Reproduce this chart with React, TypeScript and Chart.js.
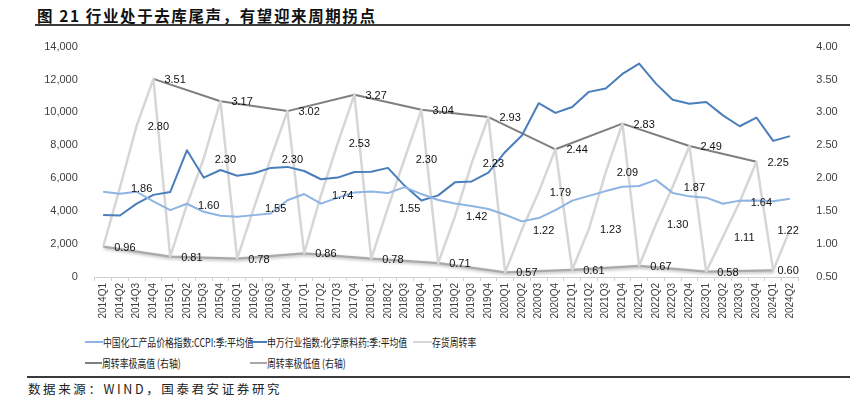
import React, { useEffect, useRef } from 'react';
import { Chart, registerables } from 'chart.js';
Chart.register(...registerables);

const categories = [
  '2014Q1','2014Q2','2014Q3','2014Q4','2015Q1','2015Q2','2015Q3','2015Q4',
  '2016Q1','2016Q2','2016Q3','2016Q4','2017Q1','2017Q2','2017Q3','2017Q4',
  '2018Q1','2018Q2','2018Q3','2018Q4','2019Q1','2019Q2','2019Q3','2019Q4',
  '2020Q1','2020Q2','2020Q3','2020Q4','2021Q1','2021Q2','2021Q3','2021Q4',
  '2022Q1','2022Q2','2022Q3','2022Q4','2023Q1','2023Q2','2023Q3','2023Q4',
  '2024Q1','2024Q2'
];

const ccpi = [
  5180,5060,5180,4590, 4060,4450,3960,3720, 3660,3760,3860,4660,
  5040,4460,4820,5140, 5200,5100,5460,5040, 4680,4460,4320,4130,
  3780,3380,3580,4060, 4640,4930,5220,5480, 5530,5900,5110,4900,
  4820,4450,4640,4650, 4600,4750
];

const swIndex = [
  3760,3740,4460,4990, 5160,7700,6040,6500, 6150,6300,6630,6690,
  6440,5940,6040,6380, 6400,6630,5540,4650, 4960,5750,5810,6340,
  7600,8600,10560,9970, 10330,11250,11450,12340, 12970,11750,10770,10530,
  10630,9820,9160,9690, 8270,8560
];

const turnover = [
  0.96,1.86,2.80,3.51, 0.81,1.60,2.30,3.17, 0.78,1.55,2.30,3.02,
  0.86,1.74,2.53,3.27, 0.78,1.55,2.30,3.04, 0.71,1.42,2.23,2.93,
  0.57,1.22,1.79,2.44, 0.61,1.23,2.09,2.83, 0.67,1.30,1.87,2.49,
  0.58,1.11,1.64,2.25, 0.60,1.22
];

const highQuarters = ['2014Q4','2015Q4','2016Q4','2017Q4','2018Q4','2019Q4','2020Q4','2021Q4','2022Q4','2023Q4'];
const highValues = [3.51,3.17,3.02,3.27,3.04,2.93,2.44,2.83,2.49,2.25];
const lowQuarters = ['2014Q1','2015Q1','2016Q1','2017Q1','2018Q1','2019Q1','2020Q1','2021Q1','2022Q1','2023Q1','2024Q1'];
const lowValues = [0.96,0.81,0.78,0.86,0.78,0.71,0.57,0.61,0.67,0.58,0.60];

const leftTicks = [0,2000,4000,6000,8000,10000,12000,14000];
const rightTicks = [0.5,1.0,1.5,2.0,2.5,3.0,3.5,4.0];

const seriesNames = [
  '中国化工产品价格指数:CCPI:季:平均值',
  '申万行业指数:化学原料药:季:平均值',
  '存货周转率',
  '周转率极高值 (右轴)',
  '周转率极低值 (右轴)'
];
const colors = ['#8db4e2', '#4a7ebb', '#d6d6d6', '#7f7f7f', '#a9a9a9'];

const highSeries = categories.map((c) => {
  const k = highQuarters.indexOf(c);
  return k >= 0 ? highValues[k] : null;
});
const lowSeries = categories.map((c) => {
  const k = lowQuarters.indexOf(c);
  return k >= 0 ? lowValues[k] : null;
});

const FONT = '"Liberation Sans", Arial, sans-serif';
const CJK = '"Noto Sans CJK SC", "Liberation Sans", sans-serif';

export default function App() {
  const ref = useRef<HTMLCanvasElement>(null);

  useEffect(() => {
    document.body.style.margin = '0';
    const canvas = ref.current;
    if (!canvas) return;

    const labelPlugin = {
      id: 'turnLabels',
      afterDatasetsDraw(chart: any) {
        const meta = chart.getDatasetMeta(2);
        const c = chart.ctx;
        c.save();
        c.font = '11px ' + FONT;
        c.fillStyle = '#111';
        c.textBaseline = 'middle';
        c.textAlign = 'left';
        meta.data.forEach((pt: any, i: number) => {
          const txt = turnover[i].toFixed(2);
          const w = c.measureText(txt).width;
          let x = pt.x + 11;
          if (x + w > chart.chartArea.right + 0.5) x = chart.chartArea.right + 0.5 - w;
          c.fillText(txt, x, pt.y + 1);
        });
        c.restore();
      },
    };

    const shadowPlugin = {
      id: 'lineShadow',
      beforeDatasetDraw(chart: any, args: any) {
        if (args.index === 4) {
          const c = chart.ctx;
          c.save();
          c.shadowColor = 'rgba(0,0,0,0.28)';
          c.shadowBlur = 3;
          c.shadowOffsetX = 1;
          c.shadowOffsetY = 1.5;
        }
      },
      afterDatasetDraw(chart: any, args: any) {
        if (args.index === 4) chart.ctx.restore();
      },
    };

    const base = { pointRadius: 0, pointHoverRadius: 0, tension: 0, fill: false, borderJoinStyle: 'round' as const };

    const chart = new Chart(canvas, {
      type: 'line',
      data: {
        labels: categories,
        datasets: [
          { ...base, label: seriesNames[0], data: ccpi, borderColor: colors[0], borderWidth: 2, yAxisID: 'y' },
          { ...base, label: seriesNames[1], data: swIndex, borderColor: colors[1], borderWidth: 2, yAxisID: 'y' },
          { ...base, label: seriesNames[2], data: turnover, borderColor: colors[2], borderWidth: 2.5, yAxisID: 'y1' },
          { ...base, label: seriesNames[3], data: highSeries, borderColor: colors[3], borderWidth: 2, yAxisID: 'y1', spanGaps: true },
          { ...base, label: seriesNames[4], data: lowSeries, borderColor: colors[4], borderWidth: 2.25, yAxisID: 'y1', spanGaps: true },
        ],
      },
      options: {
        responsive: false,
        animation: false,
        devicePixelRatio: 1,
        layout: { padding: { top: 10, left: 0, right: 0, bottom: 0 } },
        plugins: {
          legend: { display: false },
          tooltip: { enabled: false },
        },
        scales: {
          x: {
            offset: true,
            grid: { display: true, drawOnChartArea: false, drawTicks: true, tickLength: 4, color: '#d0d0d0', offset: true },
            border: { display: true, color: '#d0d0d0', width: 1 },
            ticks: { autoSkip: false, maxRotation: 90, minRotation: 90, padding: 2, color: '#404040', font: { family: FONT, size: 10 } },
            afterFit: (s: any) => { s.height = 53; },
          },
          y: {
            position: 'left',
            min: 0,
            max: 14000,
            afterBuildTicks: (s: any) => { s.ticks = leftTicks.map((v) => ({ value: v })); },
            grid: { display: false },
            border: { display: false },
            ticks: {
              padding: 9,
              color: '#404040',
              font: { family: FONT, size: 11 },
              callback: (v: any) => Number(v).toLocaleString('en-US'),
            },
            afterFit: (s: any) => { s.width = 94.8; },
          },
          y1: {
            position: 'right',
            min: 0.5,
            max: 4.0,
            afterBuildTicks: (s: any) => { s.ticks = rightTicks.map((v) => ({ value: v })); },
            grid: { display: false },
            border: { display: false },
            ticks: {
              padding: 10,
              color: '#404040',
              font: { family: FONT, size: 11 },
              callback: (v: any) => Number(v).toFixed(2),
            },
            afterFit: (s: any) => { s.width = 58.7; },
          },
        },
      },
      plugins: [shadowPlugin, labelPlugin],
    });

    return () => chart.destroy();
  }, []);

  const legendRows = [
    [
      { i: 0, lx: 85, tx: 103 },
      { i: 1, lx: 250, tx: 267 },
      { i: 2, lx: 413, tx: 432 },
    ],
    [
      { i: 3, lx: 85, tx: 102 },
      { i: 4, lx: 250, tx: 267 },
    ],
  ];
  const rowY = [342, 363];

  return (
    <div style={{ position: 'relative', width: 857, height: 397, background: '#fff', overflow: 'hidden' }}>
      <div style={{ position: 'absolute', left: 37, top: 4, fontFamily: CJK, fontWeight: 700, fontSize: 15.5, letterSpacing: 1.6, color: '#111', whiteSpace: 'nowrap' }}>
        图 21 行业处于去库尾声，有望迎来周期拐点
      </div>
      <div style={{ position: 'absolute', left: 35, top: 24, width: 815, height: 2, background: '#3a3a3a' }} />
      <div style={{ position: 'absolute', left: 0, top: 30, width: 857, height: 300 }}>
        <canvas ref={ref} width={857} height={300} style={{ display: 'block', width: 857, height: 300 }} />
      </div>
      {legendRows.map((row, r) =>
        row.map((it) => (
          <React.Fragment key={it.i}>
            <div style={{ position: 'absolute', left: it.lx, top: rowY[r] - 1, width: it.tx - it.lx, height: 2, background: colors[it.i] }} />
            <div style={{ position: 'absolute', left: it.tx, top: rowY[r] - 8, height: 16, lineHeight: '16px', fontFamily: CJK, fontSize: 11.5, color: '#222', whiteSpace: 'nowrap', transform: 'scaleX(0.77)', transformOrigin: 'left center' }}>
              {seriesNames[it.i]}
            </div>
          </React.Fragment>
        ))
      )}
      <div style={{ position: 'absolute', left: 27, top: 376, width: 823, height: 2, background: '#3a3a3a' }} />
      <div style={{ position: 'absolute', left: 28, top: 381, fontFamily: CJK, fontSize: 12.5, letterSpacing: 2.6, color: '#222', whiteSpace: 'nowrap', lineHeight: '16px' }}>
        数据来源：WIND，国泰君安证券研究
      </div>
    </div>
  );
}
